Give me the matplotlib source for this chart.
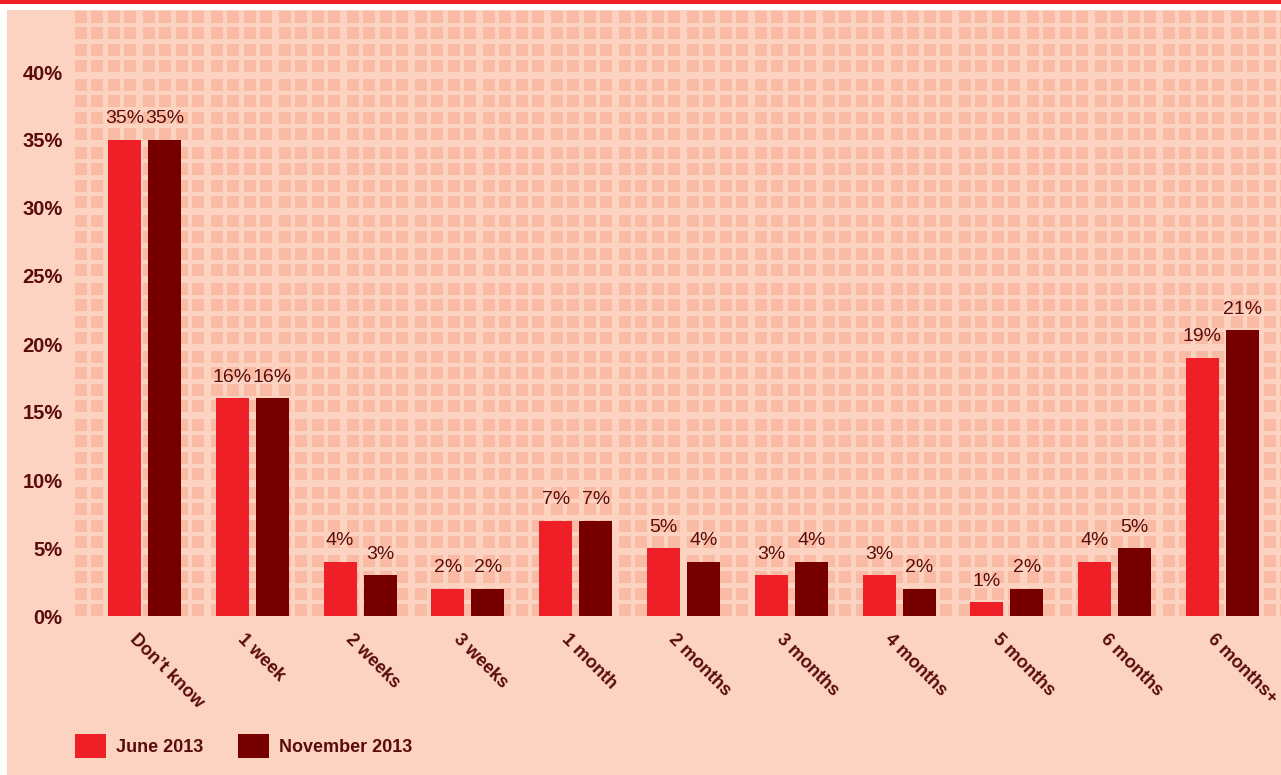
import matplotlib
matplotlib.use("Agg")
import matplotlib.pyplot as plt
from matplotlib.patches import Rectangle, Patch
from matplotlib.collections import PatchCollection
import matplotlib.transforms as mtransforms
import numpy as np

plt.rcParams['font.family'] = ['Liberation Sans', 'DejaVu Sans']

categories = ["Don\u2019t know", "1 week", "2 weeks", "3 weeks", "1 month", "2 months",
              "3 months", "4 months", "5 months", "6 months", "6 months+"]
june_2013 = [35, 16, 4, 2, 7, 5, 3, 3, 1, 4, 19]
nov_2013 = [35, 16, 3, 2, 7, 4, 4, 2, 2, 5, 21]
series_names = ["June 2013", "November 2013"]
yticks = [0, 5, 10, 15, 20, 25, 30, 35, 40]

RED = "#ee1f27"
DARK = "#760000"
PANEL = "#fcd3c1"
SQUARE = "#f9bba3"
TEXT = "#5a0b0b"

W, H = 1281, 775
fig = plt.figure(figsize=(W / 100, H / 100), dpi=100, facecolor="white")

# red rule along the top and the peach panel behind everything
fig.add_artist(Rectangle((0, 1 - 4 / H), 1, 4 / H, transform=fig.transFigure,
                         color=RED, lw=0, zorder=0))
fig.add_artist(Rectangle((7 / W, 0), 1 - 7 / W, 1 - 10 / H, transform=fig.transFigure,
                         color=PANEL, lw=0, zorder=0))

ax = fig.add_axes([75 / W, 1 - 616 / H, (W - 75) / W, (616 - 10) / H])
ax.set_facecolor(PANEL)
for s in ax.spines.values():
    s.set_visible(False)

px_per_cat = 107.8       # pixels between group centres
px_per_pct = 13.6        # pixels per percentage point
x_left = (75 - 144.5) / px_per_cat
x_right = (W - 144.5) / px_per_cat
ax.set_xlim(x_left, x_right)
ax.set_ylim(0, (616 - 10) / px_per_pct)

# background tile pattern: blocks of 4x4 squares, one block per 5 %
offs = np.array([0, 16, 33, 49])
sq = 12
tiles = []
for bx in np.arange(x_left, x_right, 68 / px_per_cat):
    for ox in offs / px_per_cat:
        for by in np.arange(0, 45, 5):
            for oy in offs / px_per_pct:
                tiles.append(Rectangle((bx + ox, by + oy), sq / px_per_cat, sq / px_per_pct))
ax.add_collection(PatchCollection(tiles, facecolor=SQUARE, edgecolor="none", zorder=0))

x = np.arange(len(categories))
bw = 33 / px_per_cat
off = 20 / px_per_cat
b1 = ax.bar(x - off, june_2013, bw, color=RED, zorder=2)
b2 = ax.bar(x + off, nov_2013, bw, color=DARK, zorder=2)

for bars, vals in [(b1, june_2013), (b2, nov_2013)]:
    for bar, v in zip(bars, vals):
        ax.annotate(f"{v}%", (bar.get_x() + bar.get_width() / 2, v),
                    xytext=(0, 9), textcoords="offset points",
                    ha="center", va="bottom", fontsize=14, color=TEXT)

ax.set_yticks(yticks)
ax.set_yticklabels([f"{t}%" for t in yticks], fontsize=14.5, fontweight="bold", color=TEXT)
ax.tick_params(axis="y", length=0, pad=9)

ax.set_xticks(x)
ax.set_xticklabels(categories, rotation=-45, ha="left", rotation_mode="anchor",
                   fontsize=13, fontweight="bold", color=TEXT)
ax.tick_params(axis="x", length=0, pad=11)
shift = mtransforms.ScaledTranslation(-6 / 100, 0, fig.dpi_scale_trans)
for lab in ax.get_xticklabels():
    lab.set_transform(lab.get_transform() + shift)

handles = [Patch(facecolor=RED, edgecolor="none"), Patch(facecolor=DARK, edgecolor="none")]
fig.legend(handles, series_names, loc="center left", bbox_to_anchor=(75 / W, 1 - 746 / H),
           ncol=2, frameon=False, borderpad=0, borderaxespad=0,
           handlelength=1.72, handleheight=1.72, handletextpad=0.55, columnspacing=1.9,
           prop={"size": 13, "weight": "bold"}, labelcolor=TEXT)

fig.savefig("out.png", dpi=100, facecolor="white")
